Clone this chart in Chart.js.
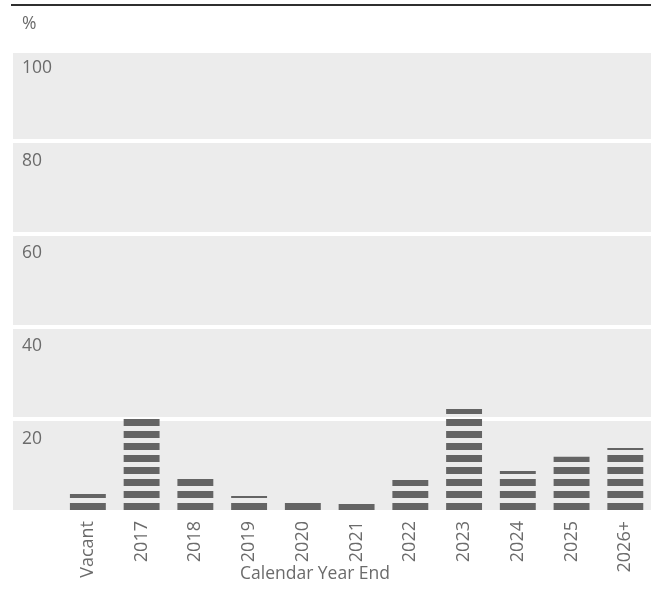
<!DOCTYPE html>
<html>
<head>
<meta charset="utf-8">
<script src="https://cdn.jsdelivr.net/npm/chart.js@4/dist/chart.umd.min.js"></script>
<style>
  html, body { margin: 0; padding: 0; background: #fff; overflow: hidden; }
  #wrap { position: relative; width: 656px; height: 590px; }
  #rule { position: absolute; top: 4px; left: 11px; width: 645px; height: 2px; background: #2f2f2f; }
</style>
</head>
<body>
<div id="wrap">
  <canvas id="chart" width="656" height="590"></canvas>
  <div id="rule"></div>
</div>
<script>
const categories = ['Vacant', '2017', '2018', '2019', '2020', '2021', '2022', '2023', '2024', '2025', '2026+'];
const expiring = [3.9, 20.3, 7.1, 3.45, 1.95, 1.7, 6.9, 22.2, 8.85, 11.9, 13.8];
const yMax = 100;
const yStep = 20;
const unitLabel = '%';
const xTitle = 'Calendar Year End';

const FONT = 'Open Sans';
const TEXT = '#6b6b6b';
const BAR = '#646464';
const PANEL = '#ececec';

// striped fill: 7px of bar colour, 5px gap
const tile = document.createElement('canvas');
tile.width = 8;
tile.height = 12;
const tctx = tile.getContext('2d');
tctx.fillStyle = BAR;
tctx.fillRect(0, 0, 8, 7);
const stripes = document.getElementById('chart').getContext('2d').createPattern(tile, 'repeat');

const panel = {
  id: 'panel',
  beforeDraw(chart) {
    const {ctx, scales: {y}} = chart;
    const top = y.getPixelForValue(yMax) + 4.5;
    const bottom = y.getPixelForValue(0) - 1.5;
    ctx.save();
    ctx.fillStyle = PANEL;
    ctx.fillRect(13, top, chart.width - 13, bottom - top);
    ctx.restore();
  },
  beforeDatasetsDraw(chart) {
    // line the stripes up with the bar base
    const y0 = chart.scales.y.getPixelForValue(0);
    stripes.setTransform(new DOMMatrix().translate(0, y0 - 9));
  },
  afterLayout(chart) {
    // axis caption sits centred on the figure, not on the plot
    chart.titleBlock.left = 0;
    chart.titleBlock.right = 630;
    // let the long rotated labels run past the caption line
    chart.scales.x.bottom = chart.height;
  }
};

new Chart(document.getElementById('chart'), {
  type: 'bar',
  data: {
    labels: categories,
    datasets: [{
      data: expiring,
      backgroundColor: stripes,
      borderWidth: 0,
      barPercentage: 0.668,
      categoryPercentage: 1
    }]
  },
  options: {
    responsive: false,
    animation: false,
    layout: {padding: {left: 22, right: 2, top: 0, bottom: 0}},
    plugins: {
      legend: {display: false},
      tooltip: {enabled: false},
      subtitle: {
        display: true,
        text: unitLabel,
        position: 'top',
        align: 'start',
        color: TEXT,
        font: {family: FONT, size: 17.5, weight: 'normal'},
        padding: {top: 14, bottom: 13.5}
      },
      title: {
        display: true,
        text: xTitle,
        position: 'bottom',
        align: 'center',
        color: TEXT,
        font: {family: FONT, size: 17.5, weight: 'normal'},
        padding: {top: 0, bottom: 5.5}
      }
    },
    scales: {
      x: {
        grid: {display: false, drawTicks: false},
        border: {display: false},
        ticks: {
          color: TEXT,
          font: {family: FONT, size: 18},
          minRotation: 90,
          maxRotation: 90,
          autoSkip: false,
          padding: 9
        },
        afterFit(scale) { scale.height = 51.5; }
      },
      y: {
        min: 0,
        max: yMax,
        grid: {
          color: '#ffffff',
          lineWidth: 4,
          drawTicks: true,
          tickLength: 48,
          tickColor: '#ffffff',
          tickWidth: 4
        },
        border: {display: false},
        ticks: {
          stepSize: yStep,
          color: TEXT,
          font: {family: FONT, size: 17.5},
          crossAlign: 'far',
          labelOffset: 19.5,
          callback: v => (v === 0 ? '' : v)
        },
        afterFit(scale) { scale.width = 39; }
      }
    }
  },
  plugins: [panel]
});
</script>
</body>
</html>
